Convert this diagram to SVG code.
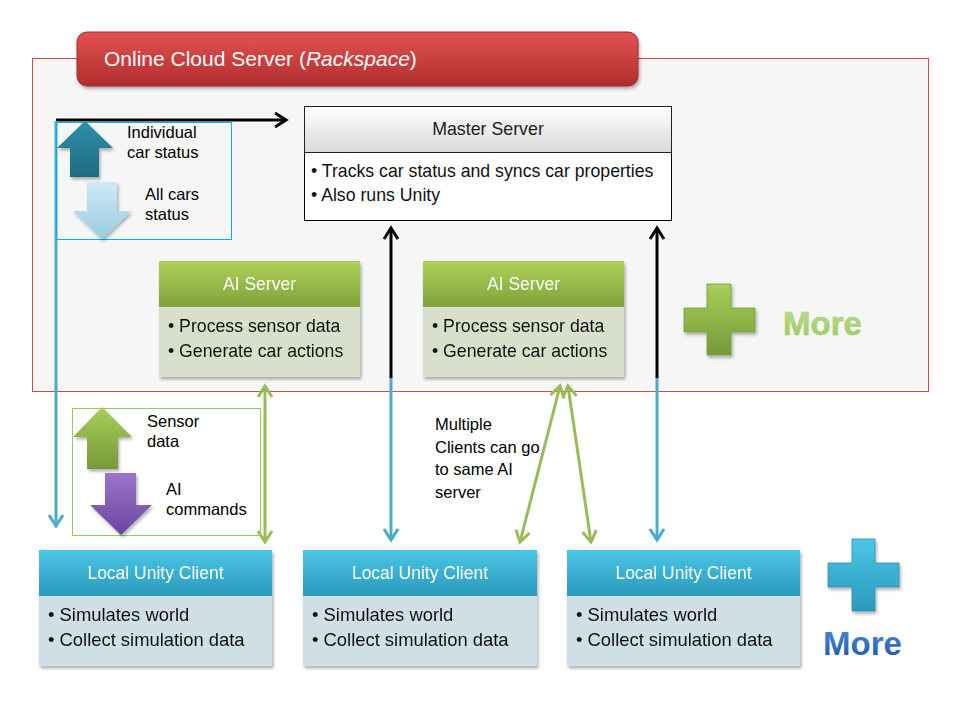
<svg xmlns="http://www.w3.org/2000/svg" width="960" height="720" viewBox="0 0 960 720">
<defs>
<style>
.t{font-family:"Liberation Sans",Arial,sans-serif}
.hdr{font-family:"Liberation Sans",Arial,sans-serif;font-size:17.5px;fill:#fff;text-anchor:middle}
.bul{font-family:"Liberation Sans",Arial,sans-serif;font-size:17.7px;fill:#111}
.bulc{font-family:"Liberation Sans",Arial,sans-serif;font-size:18.4px;fill:#111}
.ann{font-family:"Liberation Sans",Arial,sans-serif;font-size:16.5px;fill:#000}
.blk{stroke:#000;stroke-width:3;fill:none}
.blu{stroke:#4bacc6;stroke-width:3;fill:none}
.grn{stroke:#9bbb59;stroke-width:3;fill:none}
</style>
<linearGradient id="gRed" x1="0" y1="0" x2="0" y2="1"><stop offset="0" stop-color="#e45252"/><stop offset="1" stop-color="#b12d2d"/></linearGradient>
<linearGradient id="gGrn" x1="0" y1="0" x2="0" y2="1"><stop offset="0" stop-color="#aed05c"/><stop offset="1" stop-color="#7fa339"/></linearGradient>
<linearGradient id="gBlu" x1="0" y1="0" x2="0" y2="1"><stop offset="0" stop-color="#4cc6e6"/><stop offset="1" stop-color="#2a9abb"/></linearGradient>
<linearGradient id="gWht" x1="0" y1="0" x2="0" y2="1"><stop offset="0" stop-color="#ffffff"/><stop offset="1" stop-color="#d9d9d9"/></linearGradient>
<linearGradient id="gTeal" x1="0" y1="0" x2="0" y2="1"><stop offset="0" stop-color="#2f8fa9"/><stop offset="1" stop-color="#1f6b82"/></linearGradient>
<linearGradient id="gLt" x1="0" y1="0" x2="0" y2="1"><stop offset="0" stop-color="#cdeaf3"/><stop offset="1" stop-color="#9acde0"/></linearGradient>
<linearGradient id="gGA" x1="0" y1="0" x2="0" y2="1"><stop offset="0" stop-color="#a8cf58"/><stop offset="1" stop-color="#76993a"/></linearGradient>
<linearGradient id="gPur" x1="0" y1="0" x2="0" y2="1"><stop offset="0" stop-color="#9c74cc"/><stop offset="1" stop-color="#6a45a0"/></linearGradient>
<linearGradient id="gMoreG" x1="0" y1="0" x2="0" y2="1"><stop offset="0" stop-color="#c2e29a"/><stop offset="1" stop-color="#98c65c"/></linearGradient>
<linearGradient id="gMoreB" x1="0" y1="0" x2="0" y2="1"><stop offset="0" stop-color="#4f8ede"/><stop offset="1" stop-color="#1b56a8"/></linearGradient>
<filter id="sh" x="-10%" y="-10%" width="130%" height="140%"><feDropShadow dx="1.5" dy="2.5" stdDeviation="1.8" flood-color="#000" flood-opacity="0.3"/></filter>
<marker id="mB" markerUnits="userSpaceOnUse" markerWidth="16" markerHeight="18" viewBox="0 0 16 18" refX="13" refY="9" orient="auto-start-reverse"><path d="M2,2 L13,9 L2,16" fill="none" stroke="#000" stroke-width="3"/></marker>
<marker id="mU" markerUnits="userSpaceOnUse" markerWidth="16" markerHeight="18" viewBox="0 0 16 18" refX="13" refY="9" orient="auto-start-reverse"><path d="M2,2 L13,9 L2,16" fill="none" stroke="#4bacc6" stroke-width="3"/></marker>
<marker id="mG" markerUnits="userSpaceOnUse" markerWidth="16" markerHeight="18" viewBox="0 0 16 18" refX="13" refY="9" orient="auto-start-reverse"><path d="M2,2 L13,9 L2,16" fill="none" stroke="#9bbb59" stroke-width="3"/></marker>
</defs>
<rect width="960" height="720" fill="#fff"/>

<g id="cloud">
<rect x="32.5" y="58.5" width="896" height="333" fill="#f6f6f6" stroke="#d24a4a" stroke-width="1"/>
<rect x="77" y="32" width="561" height="54" rx="10" fill="url(#gRed)" stroke="#a52828" stroke-width="1" filter="url(#sh)"/>
<text class="t" x="104" y="66" font-size="21" fill="#fff">Online Cloud Server (<tspan font-style="italic">Rackspace</tspan>)</text>
</g>

<g id="connectors">
<line class="blk" x1="56" y1="120" x2="286" y2="120" marker-end="url(#mB)"/>
<line class="blu" x1="56" y1="121" x2="56" y2="526" marker-end="url(#mU)"/>
<line class="blk" x1="391" y1="378" x2="391" y2="228" marker-end="url(#mB)"/>
<line class="blu" x1="391" y1="378" x2="391" y2="540" marker-end="url(#mU)"/>
<line class="blk" x1="657" y1="378" x2="657" y2="228" marker-end="url(#mB)"/>
<line class="blu" x1="657" y1="378" x2="657" y2="540" marker-end="url(#mU)"/>
<line class="grn" x1="265" y1="386" x2="265" y2="542" marker-start="url(#mG)" marker-end="url(#mG)"/>
<line class="grn" x1="560" y1="386" x2="520" y2="542" marker-start="url(#mG)" marker-end="url(#mG)"/>
<line class="grn" x1="568" y1="386" x2="591" y2="542" marker-start="url(#mG)" marker-end="url(#mG)"/>
</g>

<g id="legend-status">
<rect x="56.5" y="122.5" width="175" height="117" fill="none" stroke="#00b0f0" stroke-width="1"/>
<polygon points="85,121 113,148 99,148 99,177 70,177 70,148 57,148" fill="url(#gTeal)" filter="url(#sh)"/>
<polygon points="87,182 117,182 117,211 131,211 102,239 73,211 87,211" fill="url(#gLt)" filter="url(#sh)"/>
<text class="ann" x="127" y="138">Individual</text>
<text class="ann" x="127" y="158">car status</text>
<text class="ann" x="145" y="200">All cars</text>
<text class="ann" x="145" y="220">status</text>
</g>

<g id="legend-ai">
<rect x="72.5" y="408.5" width="188" height="127" fill="none" stroke="#92d050" stroke-width="1"/>
<polygon points="102,407 132,437 118,437 118,469 87,469 87,437 73,437" fill="url(#gGA)" filter="url(#sh)"/>
<polygon points="105,473 136,473 136,505 152,505 121,535 90,505 105,505" fill="url(#gPur)" filter="url(#sh)"/>
<text class="ann" x="147" y="427">Sensor</text>
<text class="ann" x="147" y="447">data</text>
<text class="ann" x="166" y="495">AI</text>
<text class="ann" x="166" y="515">commands</text>
</g>

<g id="master-server">
<rect x="304.5" y="152.5" width="367" height="68" fill="#fff" stroke="#000" stroke-width="1"/>
<rect x="304.5" y="106.5" width="367" height="46" fill="url(#gWht)" stroke="#222" stroke-width="1"/>
<text class="t" x="488" y="135" font-size="17.8" fill="#222" text-anchor="middle">Master Server</text>
<text class="bul" x="311" y="177">• Tracks car status and syncs car properties</text>
<text class="bul" x="311" y="201">• Also runs Unity</text>
</g>

<g id="ai-server-1" filter="url(#sh)">
<rect x="159" y="307" width="201" height="70" fill="#d8dfcb"/>
<rect x="159" y="261" width="201" height="46" fill="url(#gGrn)"/>
<text class="hdr" x="259.5" y="290">AI Server</text>
<text class="bul" x="168" y="332">• Process sensor data</text>
<text class="bul" x="168" y="357">• Generate car actions</text>
</g>

<g id="ai-server-2" filter="url(#sh)">
<rect x="423" y="307" width="201" height="70" fill="#d8dfcb"/>
<rect x="423" y="261" width="201" height="46" fill="url(#gGrn)"/>
<text class="hdr" x="523.5" y="290">AI Server</text>
<text class="bul" x="432" y="332">• Process sensor data</text>
<text class="bul" x="432" y="357">• Generate car actions</text>
</g>

<g id="more-ai">
<polygon points="707,284 731,284 731,308 755,308 755,332 731,332 731,355 707,355 707,332 684,332 684,308 707,308" fill="url(#gGA)" stroke="#7a9c3a" stroke-width="0.8" filter="url(#sh)"/>
<text class="t" x="783" y="335" font-size="33" font-weight="bold" fill="url(#gMoreG)" stroke="#a6cf72" stroke-width="0.6">More</text>
</g>

<text class="ann" x="435" y="430">Multiple</text>
<text class="ann" x="435" y="453">Clients can go</text>
<text class="ann" x="435" y="475">to same AI</text>
<text class="ann" x="435" y="498">server</text>

<g id="client-1" filter="url(#sh)">
<rect x="39" y="596" width="233" height="70" fill="#d0dfe6"/>
<rect x="39" y="550" width="233" height="46" fill="url(#gBlu)"/>
<text class="hdr" x="155.5" y="579" font-size="18.3">Local Unity Client</text>
<text class="bulc" x="48" y="621">• Simulates world</text>
<text class="bulc" x="48" y="646">• Collect simulation data</text>
</g>

<g id="client-2" filter="url(#sh)">
<rect x="303" y="596" width="234" height="70" fill="#d0dfe6"/>
<rect x="303" y="550" width="234" height="46" fill="url(#gBlu)"/>
<text class="hdr" x="420" y="579" font-size="18.3">Local Unity Client</text>
<text class="bulc" x="312" y="621">• Simulates world</text>
<text class="bulc" x="312" y="646">• Collect simulation data</text>
</g>

<g id="client-3" filter="url(#sh)">
<rect x="567" y="596" width="233" height="70" fill="#d0dfe6"/>
<rect x="567" y="550" width="233" height="46" fill="url(#gBlu)"/>
<text class="hdr" x="683.5" y="579" font-size="18.3">Local Unity Client</text>
<text class="bulc" x="576" y="621">• Simulates world</text>
<text class="bulc" x="576" y="646">• Collect simulation data</text>
</g>

<g id="more-clients">
<polygon points="852,539 875,539 875,563 899,563 899,587 875,587 875,611 852,611 852,587 828,587 828,563 852,563" fill="url(#gBlu)" stroke="#2a90b0" stroke-width="0.8" filter="url(#sh)"/>
<text class="t" x="823" y="655" font-size="33" font-weight="bold" fill="url(#gMoreB)">More</text>
</g>
</svg>
